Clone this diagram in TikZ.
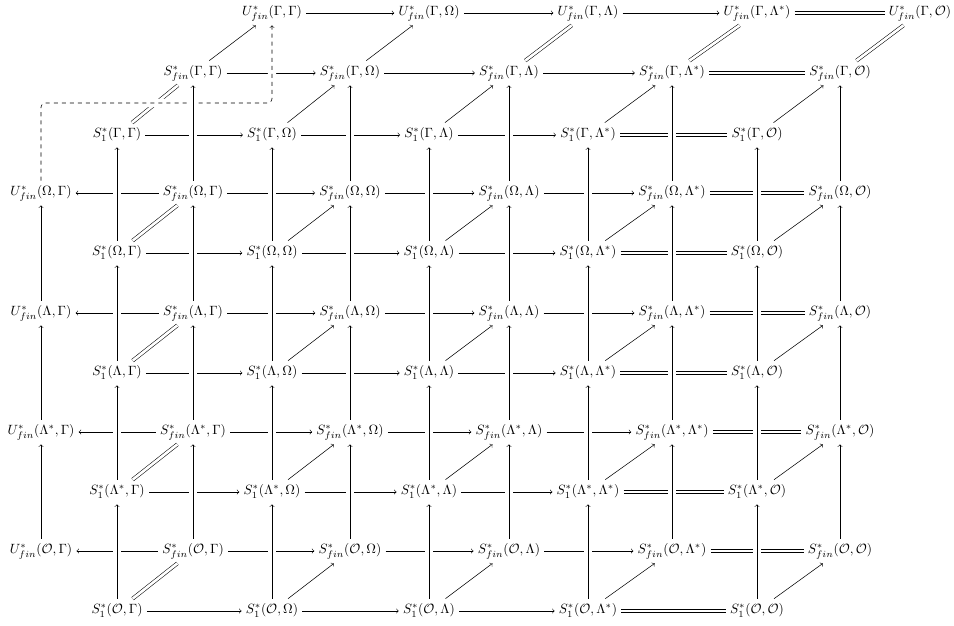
\documentclass[tikz,border=0pt]{standalone}
\usepackage{amsmath}
\usepackage{amsfonts}
\usepackage{amssymb}
\usepackage{tikz}

\begin{document}
\begin{tikzpicture}[x=0.0262cm, y=-0.0262cm,
    every node/.style={text height=8pt, text depth=4pt, inner sep=3pt},
    eqline/.style={double, double distance=2pt},
    crossover/.style={preaction={draw=white, -, solid, line width=6pt}}]
    \useasboundingbox (0,0) rectangle (954,626);

    % front layer S_1 and back layer S_fin
    \foreach \r/\fy/\by/\rn in {1/135/73/\Gamma, 2/253/193/\Omega, 3/373/313/\Lambda, 4/492/432/\Lambda^*, 5/611/551/\mathcal{O}}
      \foreach \c/\fx/\bx/\cn in {1/117/193/\Gamma, 2/272/350/\Omega, 3/429/509/\Lambda, 4/588/672/\Lambda^*, 5/757/840/\mathcal{O}} {
        \node (s1-\r-\c) at (\fx,\fy) {$S^*_1(\rn,\cn)$};
        \node (sf-\r-\c) at (\bx,\by) {$S^*_{fin}(\rn,\cn)$};
      }

    % U_fin along the top and down the left
    \foreach \c/\ux/\cn in {1/272/\Gamma, 2/429/\Omega, 3/588/\Lambda, 4/757/\Lambda^*, 5/920/\mathcal{O}}
      \node (ut-\c) at (\ux,13) {$U^*_{fin}(\Gamma,\cn)$};
    \foreach \r/\uy/\rn in {2/193/\Omega, 3/313/\Lambda, 4/432/\Lambda^*, 5/551/\mathcal{O}}
      \node (ul-\r) at (41,\uy) {$U^*_{fin}(\rn,\Gamma)$};

    \foreach \r in {1,...,5} {
      \foreach \c/\d in {1/2, 2/3, 3/4} {
        \draw[->] (s1-\r-\c) -- (s1-\r-\d);
        \draw[->] (sf-\r-\c) -- (sf-\r-\d);
      }
      \draw[eqline] (s1-\r-4) -- (s1-\r-5);
      \draw[eqline] (sf-\r-4) -- (sf-\r-5);
      \draw[eqline] (s1-\r-1) -- (sf-\r-1);
      \foreach \c in {2,...,5}
        \draw[->] (s1-\r-\c) -- (sf-\r-\c);
    }
    \foreach \r in {2,...,5}
      \draw[->] (sf-\r-1) -- (ul-\r);

    \draw[->] (sf-1-1) -- (ut-1);
    \draw[->] (sf-1-2) -- (ut-2);
    \foreach \c in {3,4,5}
      \draw[eqline] (sf-1-\c) -- (ut-\c);
    \draw[->] (ut-1) -- (ut-2);
    \draw[->] (ut-2) -- (ut-3);
    \draw[->] (ut-3) -- (ut-4);
    \draw[eqline] (ut-4) -- (ut-5);

    % dashed map back to the top corner
    \coordinate (bend) at (41,103);
    \draw[->, dashed, rounded corners=3pt, crossover] (ul-2) -- (bend) -| (ut-1);

    % vertical maps go over everything else
    \foreach \a/\b in {2/1, 3/2, 4/3, 5/4}
      \foreach \c in {1,...,5} {
        \draw[->, crossover] (s1-\a-\c) -- (s1-\b-\c);
        \draw[->, crossover] (sf-\a-\c) -- (sf-\b-\c);
      }
    \foreach \a/\b in {3/2, 4/3, 5/4}
      \draw[->, crossover] (ul-\a) -- (ul-\b);
\end{tikzpicture}
\end{document}
